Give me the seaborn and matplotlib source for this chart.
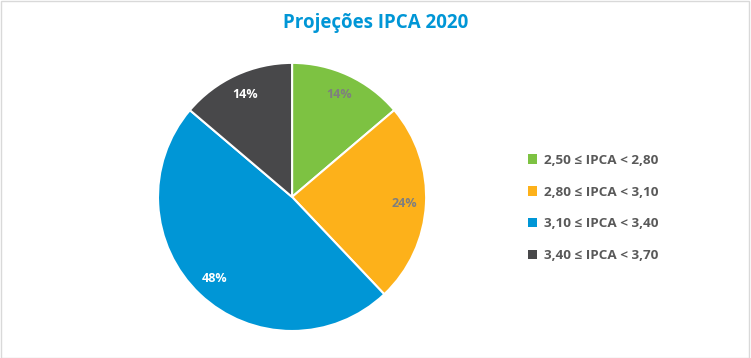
import matplotlib
matplotlib.use("Agg")
import matplotlib.pyplot as plt
import seaborn as sns
from matplotlib.patches import Rectangle, Patch

sns.set_theme(style="white")
plt.rcParams['font.family'] = ['Open Sans', 'DejaVu Sans']

categories = ["2,50 ≤ IPCA < 2,80", "2,80 ≤ IPCA < 3,10",
              "3,10 ≤ IPCA < 3,40", "3,40 ≤ IPCA < 3,70"]
counts = [4, 7, 14, 4]
colors = ["#7DC242", "#FDB11A", "#0096D6", "#48484A"]
label_colors = ["#7F7F7F", "#7F7F7F", "white", "white"]

fig = plt.figure(figsize=(7.51, 3.58), dpi=100)
fig.patch.set_facecolor("white")
fig.patches.append(Rectangle((0.001, 0.001), 0.997, 0.995, transform=fig.transFigure,
                             fill=False, edgecolor="#D9D9D9", linewidth=1))

ax = fig.add_axes([0.2104, 0.0754, 0.357, 0.749])
wedges, texts, autotexts = ax.pie(
    counts, colors=colors, startangle=90, counterclock=False,
    autopct=lambda p: f"{p:.0f}%", pctdistance=0.84,
    wedgeprops=dict(edgecolor="white", linewidth=1.5),
    textprops=dict(fontsize=9, fontweight="bold"))
for t, c in zip(autotexts, label_colors):
    t.set_color(c)
ax.set_xlim(-1, 1)
ax.set_ylim(-1, 1)
ax.set_aspect("equal")

fig.text(0.5, 0.935, "Projeções IPCA 2020", ha="center", va="center",
         fontsize=13.5, fontweight="bold", color="#0096D6")

handles = [Patch(facecolor=c, edgecolor="none") for c in colors]
leg = fig.legend(handles, categories, loc="center left",
                 bbox_to_anchor=(0.687, 0.419), frameon=False,
                 handlelength=0.7, handleheight=0.7, handletextpad=0.5,
                 labelspacing=1.4, prop=dict(size=9.7, weight="bold"))
for t in leg.get_texts():
    t.set_color("#595959")

fig.savefig("out.png", dpi=100)
